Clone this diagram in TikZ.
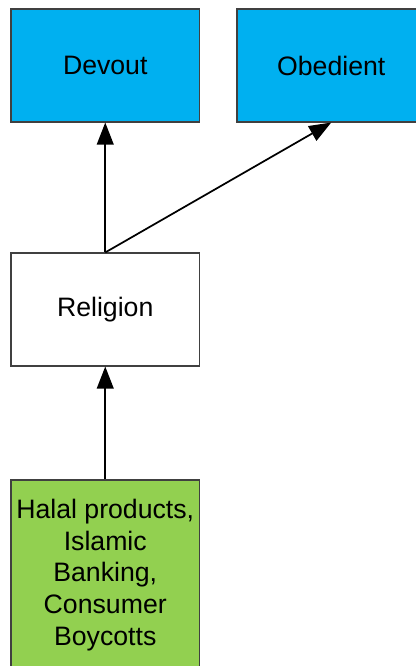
\documentclass[tikz,border=0pt]{standalone}
\usepackage{fontspec}
\setmainfont{Liberation Sans}
\usetikzlibrary{arrows.meta}
\definecolor{boxblue}{HTML}{00B0F0}
\definecolor{boxgreen}{HTML}{92D050}
\definecolor{boxline}{HTML}{404040}
\begin{document}
\begin{tikzpicture}[x=0.75pt,y=-0.75pt,
  box/.style={draw=boxline, line width=0.8pt, minimum width=141.4pt,
    minimum height=84.75pt, inner sep=0pt, align=center,
    font=\fontsize{20}{23.8}\selectfont},
  link/.style={line width=1.3pt, -{Triangle[length=16.5pt,width=12.5pt]}}]
\useasboundingbox (0,0) rectangle (416,666);
% trait boxes on top
\node[box, fill=boxblue] (devout) at (105.25,65.5) {Devout};
\node[box, fill=boxblue] (obedient) at (331.25,65.5) {Obedient};
% central factor
\node[box, fill=white] (religion) at (105.25,309.5) {Religion};
% source box at the bottom
\node[box, fill=boxgreen, minimum height=142.5pt] (source) at (105.25,575)
  {Halal products,\\Islamic\\Banking,\\Consumer\\Boycotts};
% influences
\draw[link] (religion.north) -- (devout.south);
\draw[link] (religion.north) -- (obedient.south);
\draw[link] (source.north) -- (religion.south);
\end{tikzpicture}
\end{document}
